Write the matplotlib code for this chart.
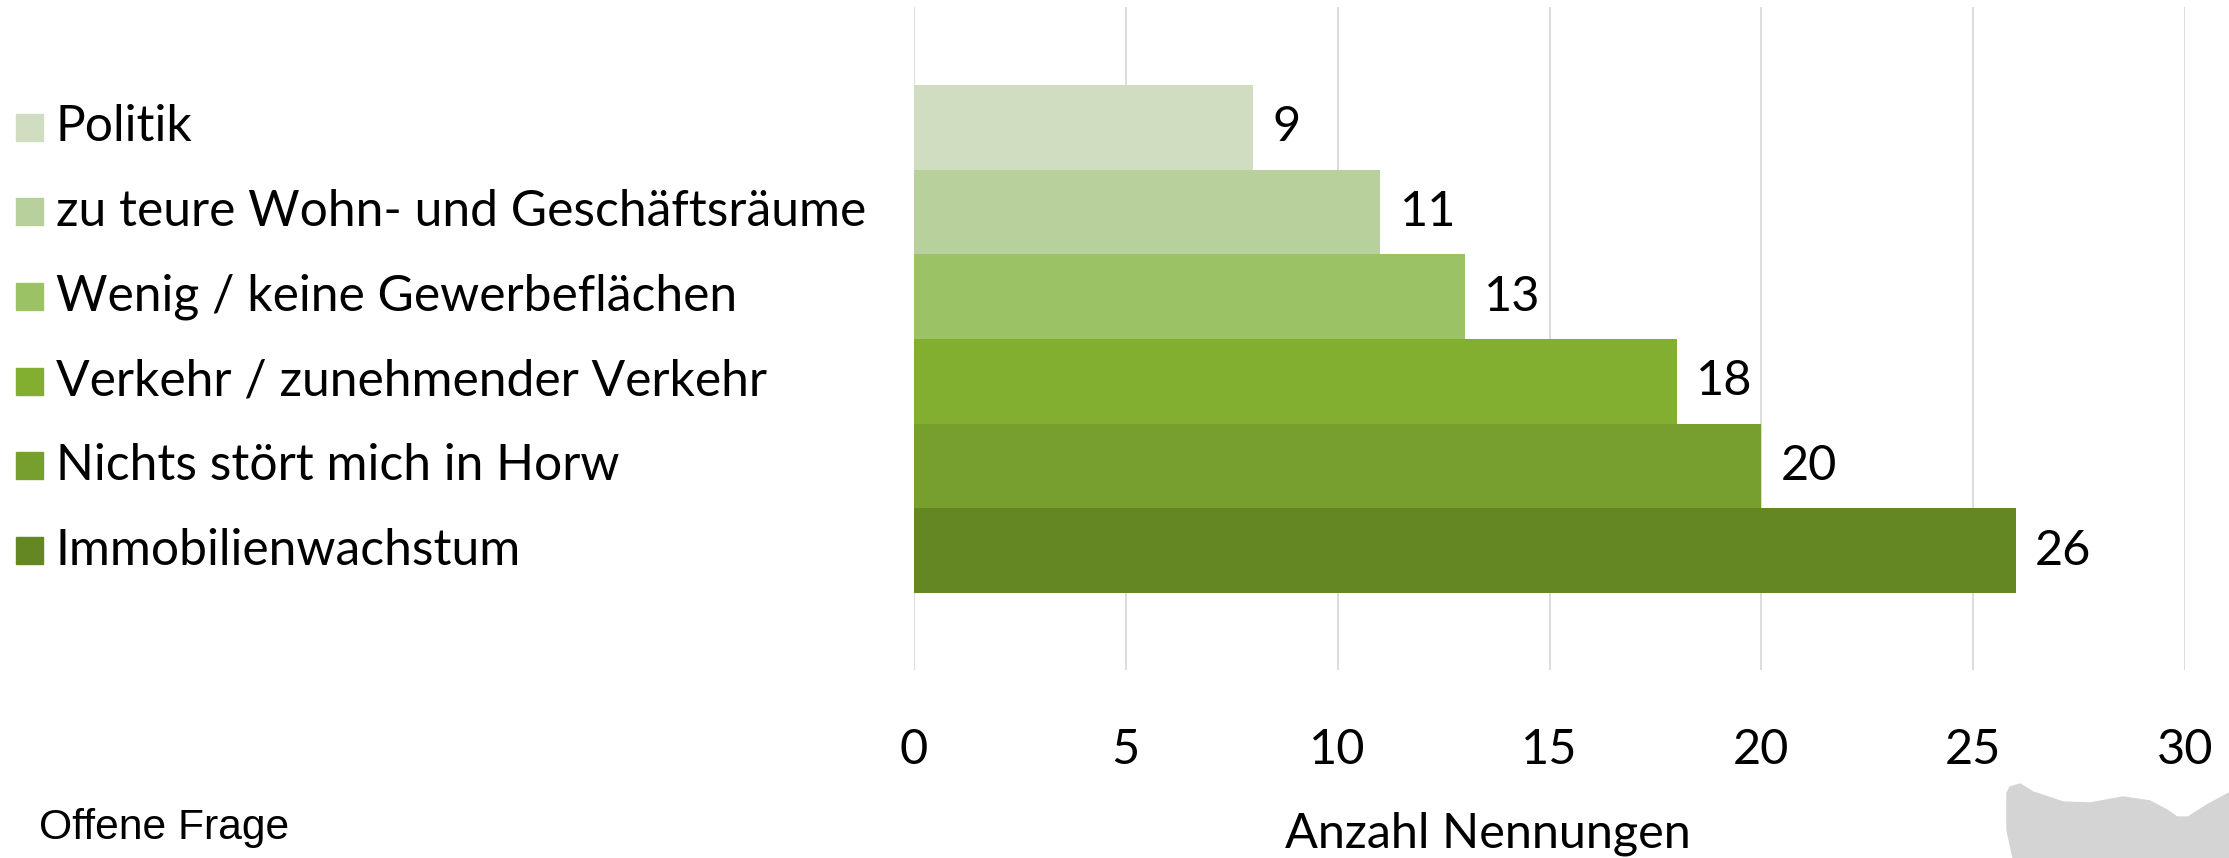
import matplotlib
matplotlib.use("Agg")
import matplotlib.pyplot as plt
from matplotlib.patches import Polygon, Rectangle
from matplotlib.transforms import blended_transform_factory

categories = ["Politik", "zu teure Wohn- und Geschäftsräume", "Wenig / keine Gewerbeflächen",
              "Verkehr / zunehmender Verkehr", "Nichts stört mich in Horw", "Immobilienwachstum"]
values = [8, 11, 13, 18, 20, 26]
value_labels = ["9", "11", "13", "18", "20", "26"]
colors = ["#D0DDC0", "#B8D09B", "#9CC266", "#83AF31", "#779F2D", "#648623"]
xticks = [0, 5, 10, 15, 20, 25, 30]

plt.rcParams['font.family'] = ['Lato', 'DejaVu Sans']

W, H = 2229, 858
fig = plt.figure(figsize=(W / 100, H / 100), dpi=100)
ax = fig.add_axes([914 / W, 1 - 670 / H, (2185 - 914) / W, (670 - 7) / H])

ypos = list(range(len(categories)))
ax.barh(ypos, values, height=1.0, color=colors, zorder=3)
ax.set_xlim(0, 30)
ax.set_ylim(6.41, -1.42)
ax.set_xticks(xticks)
ax.set_xticklabels([str(t) for t in xticks], fontsize=35)
ax.set_yticks([])
ax.tick_params(axis='x', length=0, pad=42)
ax.grid(axis='x', color='#D9D9D9', linewidth=1.3, zorder=0)
for s in ax.spines.values():
    s.set_visible(False)

for y, v, lab in zip(ypos, values, value_labels):
    ax.annotate(lab, (v, y), xytext=(14, 0), textcoords='offset points',
                ha='left', va='center', fontsize=35, zorder=4)

# legend aligned with bars
trans = blended_transform_factory(fig.transFigure, ax.transData)
sq_w = 27 / W
for y, cat, col in zip(ypos, categories, colors):
    bh = 27 / 663 * (6.41 + 1.42)
    ax.add_patch(Rectangle((16 / W, y - bh / 2), sq_w, bh, transform=trans,
                           color=col, clip_on=False))
    ax.text(56 / W, y, cat, transform=trans, ha='left', va='center',
            fontsize=35.8, clip_on=False)

fig.text(1488 / W, 1 - 847 / H, "Anzahl Nennungen", ha='center', va='baseline', fontsize=35)
fig.text(39 / W, 1 - 839 / H, "Offene Frage", ha='left', va='baseline', fontsize=30.7,
         family='Liberation Sans')

# grey decorative shape bottom right
pts = [(2013, 858), (2007, 830), (2007, 793), (2010, 787), (2020, 784), (2033, 792),
       (2063, 802), (2090, 803), (2123, 797), (2150, 801), (2167, 810), (2177, 817),
       (2188, 817), (2207, 805), (2229, 793), (2229, 858)]
fig.patches.append(Polygon([(x / W, 1 - y / H) for x, y in pts], closed=True,
                           transform=fig.transFigure, color='#D4D4D4', zorder=0))

fig.savefig("out.png", dpi=100, facecolor='white')
